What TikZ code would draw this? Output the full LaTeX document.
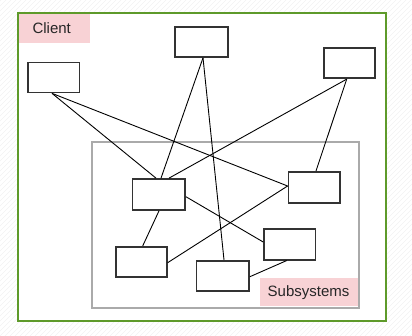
\documentclass[tikz,border=0pt]{standalone}
\usepackage{fontspec}
\setmainfont{Liberation Sans}
\definecolor{framegreen}{HTML}{5E9A2A}
\definecolor{subgray}{HTML}{AAAAAA}
\definecolor{labelpink}{HTML}{F8D2D5}
\definecolor{boxedge}{HTML}{333333}
\definecolor{hatch}{HTML}{F1F1F1}
\tikzset{
  unit/.style={draw=boxedge, line width=1.7pt, fill=white, inner sep=0pt},
  link/.style={draw=black, line width=0.9pt},
  tag/.style={fill=labelpink, inner sep=0pt, font=\fontsize{15}{18}\selectfont, text=black!85}
}
\begin{document}
\begin{tikzpicture}[x=1pt, y=-1pt]
  \useasboundingbox (0,0) rectangle (412,336);
  % faint diagonal hatching behind everything
  \begin{scope}
    \clip (0,0) rectangle (412,336);
    \foreach \k in {-340,-335,...,420}
      \draw[hatch, line width=0.6pt] (\k,336) -- (\k+336,0);
  \end{scope}
  % outer client frame
  \fill[white] (17.5,13.5) rectangle (385.5,321.5);
  \node[tag, minimum width=72pt, minimum height=29pt, anchor=north west] (clientlbl) at (17.5,13.5) {\hspace*{-4pt}Client};
  \draw[framegreen, line width=2pt] (17.5,13.5) rectangle (385.5,321.5);
  % subsystem frame
  \draw[subgray, line width=2pt] (91.5,142.5) rectangle (358.5,308.5);
  \node[tag, minimum width=98pt, minimum height=27.5pt, anchor=north west] (sublbl) at (259.3,278.2) {Subsystems};

  % client boxes
  \node[unit, minimum width=51.5pt, minimum height=30pt] (A) at (53.7,77.5) {};
  \node[unit, minimum width=53pt, minimum height=30pt] (B) at (201.3,42) {};
  \node[unit, minimum width=51.5pt, minimum height=30pt] (C) at (349.5,63.3) {};
  % subsystem boxes
  \node[unit, minimum width=52.5pt, minimum height=31pt] (D) at (158.8,194.5) {};
  \node[unit, minimum width=51.5pt, minimum height=31pt] (E) at (314.2,187.3) {};
  \node[unit, minimum width=51.5pt, minimum height=31pt] (F) at (289.8,244.2) {};
  \node[unit, minimum width=51pt, minimum height=30pt] (G) at (141.3,261.8) {};
  \node[unit, minimum width=52.5pt, minimum height=30.5pt] (H) at (222.8,276) {};

  % connections
  \draw[link] ([xshift=-1.7pt]A.south) -- ([xshift=-2.8pt]D.north);
  \draw[link] ([xshift=-1.7pt]A.south) -- ([yshift=1.3pt]E.west);
  \draw[link] ([xshift=1.7pt]B.south) -- ([xshift=2.2pt]D.north);
  \draw[link] ([xshift=1.7pt]B.south) -- ([xshift=1.2pt]H.north);
  \draw[link] ([xshift=-2.8pt]C.south) -- ([xshift=10.2pt]D.north);
  \draw[link] ([xshift=-2.8pt]C.south) -- ([xshift=1.8pt]E.north);
  \draw[link] ([yshift=1.3pt]E.west) -- ([yshift=-0.9pt]G.east);
  \draw[link] ([yshift=-2.2pt]D.east) -- ([yshift=2.2pt]F.west);
  \draw[link] ([xshift=0.2pt]D.south) -- ([xshift=1.4pt]G.north);
  \draw[link] ([xshift=-3.1pt]F.south) -- ([yshift=-0.7pt]H.east);
\end{tikzpicture}
\end{document}
